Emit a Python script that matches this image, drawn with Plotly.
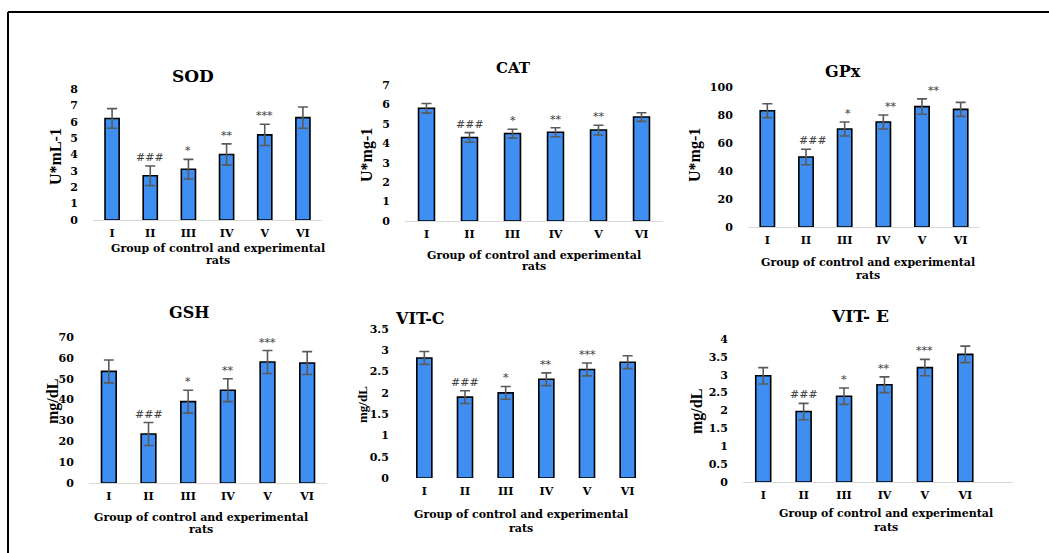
import plotly.graph_objects as go

W, H = 1049, 553

groups = ["I", "II", "III", "IV", "V", "VI"]

sod_vals = [6.2, 2.7, 3.1, 4.0, 5.2, 6.25]
sod_err = [0.6, 0.6, 0.6, 0.65, 0.65, 0.65]
sod_marks = ["", "###", "*", "**", "***", ""]

cat_vals = [5.8, 4.3, 4.5, 4.57, 4.68, 5.35]
cat_err = [0.25, 0.25, 0.22, 0.23, 0.25, 0.22]
cat_marks = ["", "###", "*", "**", "**", ""]

gpx_vals = [83, 50, 70, 75, 86, 84]
gpx_err = [5, 5.5, 5, 5, 5.5, 5]
gpx_marks = ["", "###", "*", "**", "**", ""]

gsh_vals = [53.5, 23.5, 39, 44.5, 58, 57.5]
gsh_err = [5.5, 5.5, 5.5, 5.5, 5.5, 5.5]
gsh_marks = ["", "###", "*", "**", "***", ""]

vitc_vals = [2.82, 1.9, 2.0, 2.32, 2.55, 2.72]
vitc_err = [0.15, 0.15, 0.15, 0.15, 0.15, 0.15]
vitc_marks = ["", "###", "*", "**", "***", ""]

vite_vals = [2.97, 1.97, 2.4, 2.72, 3.2, 3.57]
vite_err = [0.23, 0.23, 0.23, 0.22, 0.23, 0.23]
vite_marks = ["", "###", "*", "**", "***", ""]

x_title_lines = ["Group of control and experimental", "rats"]


def fx(p):
    return p / W


def fy(p):
    return 1 - p / H


WIDE = "DejaVu Serif"
NARROW = "Liberation Serif"
BAR = "#3f8ef2"

panels = [
    dict(t="SOD", yt="U*mL-1", v=sod_vals, e=sod_err, m=sod_marks, x=(93, 322), y=(220, 89),
         yr=[0, 8], dt=1, tp=(193, 76), tsz=17, ytp=(55, 157), ytsz=16,
         xt=(218, 248, 260), line=True, xr=[-0.5, 5.5], xs=[0, 0, 0, 0, 0, 0]),
    dict(t="CAT", yt="U*mg-1", v=cat_vals, e=cat_err, m=cat_marks, x=(405, 663), y=(221, 85),
         yr=[0, 7], dt=1, tp=(513, 68), tsz=15, ytp=(367, 155), ytsz=16,
         xt=(534, 255, 267), line=True, xr=[-0.5, 5.5], xs=[0, 0, 0, 0, 0, 0]),
    dict(t="GPx", yt="U*mg-1", v=gpx_vals, e=gpx_err, m=gpx_marks, x=(748, 980), y=(227, 87),
         yr=[0, 100], dt=20, tp=(843, 71), tsz=16, ytp=(695, 155), ytsz=16,
         xt=(868, 262, 275), line=True, xr=[-0.5, 5.5], xs=[0, 7, 3, 8, 12, 0]),
    dict(t="GSH", yt="mg/dL", v=gsh_vals, e=gsh_err, m=gsh_marks, x=(89, 327), y=(483, 337),
         yr=[0, 70], dt=10, tp=(189, 312), tsz=16, ytp=(53, 402), ytsz=16,
         xt=(201, 517, 529), line=True, xr=[-0.5, 5.5], xs=[0, 0, 0, 0, 0, 0]),
    dict(t="VIT-C", yt="mg/dL", v=vitc_vals, e=vitc_err, m=vitc_marks, x=(404, 648), y=(478, 329),
         yr=[0, 3.5], dt=0.5, tp=(420, 318), tsz=16, ytp=(362, 405), ytsz=13,
         xt=(521, 514, 528), line=False, xr=[-0.5, 5.5], xs=[0, 0, 0, 0, 0, 0]),
    dict(t="VIT- E", yt="mg/dL", v=vite_vals, e=vite_err, m=vite_marks, x=(743, 1013), y=(482, 339),
         yr=[0, 4], dt=0.5, tp=(860, 316), tsz=17, ytp=(697, 412), ytsz=16,
         xt=(886, 513, 527), line=True, xr=[-0.5, 6.18], xs=[0, 0, 0, 0, 0, 0]),
]

fig = go.Figure()
annotations = []
layout = {}

for i, p in enumerate(panels):
    n = "" if i == 0 else str(i + 1)
    xa, ya = "x" + n, "y" + n
    fig.add_trace(go.Bar(
        x=groups, y=p["v"], xaxis=xa, yaxis=ya,
        marker=dict(color=BAR, line=dict(color="#000000", width=1.6)),
        width=0.37,
        error_y=dict(type="data", array=p["e"], visible=True, color="#5a5a5a",
                     thickness=1.6, width=5),
        showlegend=False,
    ))
    layout["xaxis" + n] = dict(
        domain=[fx(p["x"][0]), fx(p["x"][1])], anchor=ya, type="category",
        range=p["xr"], showgrid=False, zeroline=False, automargin=False,
        showline=p["line"], linecolor="#d9d9d9", linewidth=1,
        ticks="outside", ticklen=3, tickcolor="rgba(0,0,0,0)",
        tickfont=dict(family=WIDE, size=11, color="#000", weight="bold"),
        fixedrange=True,
    )
    layout["yaxis" + n] = dict(
        domain=[fy(p["y"][0]), fy(p["y"][1])], anchor=xa, automargin=False,
        range=p["yr"], dtick=p["dt"], showgrid=False, zeroline=False, showline=False,
        ticks="outside", ticklen=12, tickcolor="rgba(0,0,0,0)",
        tickfont=dict(family=WIDE, size=11, color="#000", weight="bold"),
        fixedrange=True,
    )
    annotations.append(dict(
        text="<b>%s</b>" % p["t"], x=fx(p["tp"][0]), y=fy(p["tp"][1]), xref="paper", yref="paper",
        showarrow=False, xanchor="center", yanchor="middle",
        font=dict(family=WIDE, size=p["tsz"], color="#000"),
    ))
    annotations.append(dict(
        text="<b>%s</b>" % p["yt"], x=fx(p["ytp"][0]), y=fy(p["ytp"][1]), xref="paper", yref="paper",
        showarrow=False, xanchor="center", yanchor="middle", textangle=-90,
        font=dict(family=NARROW, size=p["ytsz"], color="#000"),
    ))
    cx, l1, l2 = p["xt"]
    for line_text, ly in zip(x_title_lines, (l1, l2)):
        annotations.append(dict(
            text="<b>%s</b>" % line_text, x=fx(cx), y=fy(ly), xref="paper", yref="paper",
            showarrow=False, xanchor="center", yanchor="middle",
            font=dict(family=WIDE, size=11, color="#000"),
        ))
    for g, v, e, m, s in zip(groups, p["v"], p["e"], p["m"], p["xs"]):
        if m:
            annotations.append(dict(
                text=m, x=g, y=v + e, xref=xa, yref=ya, showarrow=False,
                xanchor="center", yanchor="bottom", yshift=0, xshift=s,
                font=dict(family=WIDE, size=11, color="#404040"),
            ))

fig.update_layout(
    **layout,
    annotations=annotations,
    width=W, height=H, autosize=False,
    margin=dict(l=0, r=0, t=0, b=0, pad=0),
    paper_bgcolor="#ffffff", plot_bgcolor="#ffffff",
    shapes=[
        dict(type="line", xref="paper", yref="paper", x0=fx(8), x1=1, y0=fy(12), y1=fy(12),
             line=dict(color="#000", width=2)),
        dict(type="line", xref="paper", yref="paper", x0=fx(8), x1=fx(8), y0=fy(12), y1=0,
             line=dict(color="#000", width=2)),
    ],
)

fig.write_html(
    "out.html",
    config={"displayModeBar": False},
    post_script="document.body.style.margin='0';document.body.style.overflow='hidden';",
)
